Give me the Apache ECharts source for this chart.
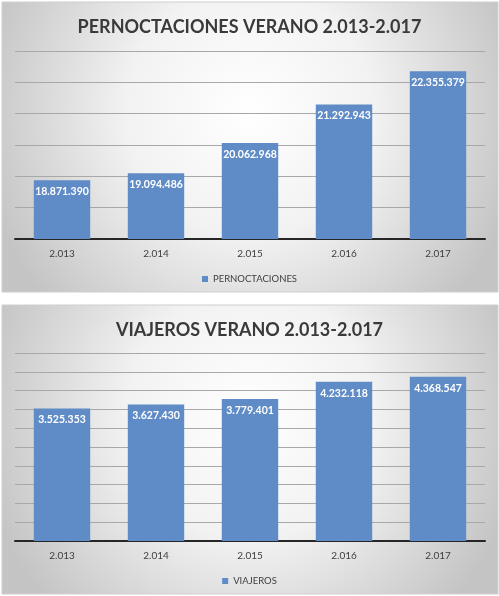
<!DOCTYPE html>
<html>
<head>
<meta charset="utf-8">
<script src="https://cdn.jsdelivr.net/npm/echarts@6/dist/echarts.min.js"></script>
<style>
html,body{margin:0;padding:0;background:#fff;}
#c{width:499px;height:596px;}
</style>
</head>
<body>
<div id="c"></div>
<script>
const categories = ['2.013', '2.014', '2.015', '2.016', '2.017'];
const pernoctaciones = [18871390, 19094486, 20062968, 21292943, 22355379];
const viajeros = [3525353, 3627430, 3779401, 4232118, 4368547];
const titleTop = 'PERNOCTACIONES VERANO 2.013-2.017';
const titleBottom = 'VIAJEROS VERANO 2.013-2.017';
const nameTop = 'PERNOCTACIONES';
const nameBottom = 'VIAJEROS';

const fmt = v => String(v).replace(/\B(?=(\d{3})+(?!\d))/g, '.');
const FONT = 'Lato';
const barColor = '#5f8bc6';

function panelGradient() {
  return new echarts.graphic.RadialGradient(0.5, 0.38, 0.95, [
    {offset: 0, color: '#ffffff'},
    {offset: 0.45, color: '#f2f2f2'},
    {offset: 1, color: '#c4c4c4'}
  ]);
}

const chart = echarts.init(document.getElementById('c'), null, {renderer: 'canvas'});

function xAxisCfg(gi) {
  return {
    type: 'category', gridIndex: gi, data: categories,
    axisLine: {lineStyle: {color: '#262626', width: 2}},
    axisTick: {show: false},
    axisLabel: {color: '#404040', fontSize: 10, fontFamily: FONT, margin: 10}
  };
}
function yAxisCfg(gi, min, max, interval) {
  return {
    type: 'value', gridIndex: gi, min: min, max: max, interval: interval,
    axisLabel: {show: false}, axisLine: {show: false}, axisTick: {show: false},
    splitLine: {lineStyle: {color: '#a8a8a8', width: 1}}
  };
}
function barSeries(name, gi, data) {
  return {
    type: 'bar', name: name, xAxisIndex: gi, yAxisIndex: gi, data: data,
    barCategoryGap: '40%',
    itemStyle: {color: barColor},
    label: {
      show: true, position: 'insideTop', distance: 6,
      color: '#ffffff', fontWeight: 'bold', fontSize: 10.5, fontFamily: FONT,
      formatter: p => fmt(p.value)
    }
  };
}

chart.setOption({
  animation: false,
  graphic: [
    {type: 'rect', z: -10, shape: {x: 2, y: 2, width: 496, height: 290},
     style: {fill: panelGradient(), stroke: '#cfcfcf', lineWidth: 1}},
    {type: 'rect', z: -10, shape: {x: 2, y: 305, width: 496, height: 289},
     style: {fill: panelGradient(), stroke: '#cfcfcf', lineWidth: 1}}
  ],
  title: [
    {text: titleTop, left: 'center', top: 13,
     textStyle: {fontFamily: FONT, fontWeight: 'bold', fontSize: 18, color: '#3a3a3a'}},
    {text: titleBottom, left: 'center', top: 316,
     textStyle: {fontFamily: FONT, fontWeight: 'bold', fontSize: 18, color: '#3a3a3a'}}
  ],
  legend: [
    {data: [nameTop], top: 269, left: 'center', icon: 'rect', itemWidth: 6, itemHeight: 6, itemGap: 4,
     textStyle: {color: '#404040', fontSize: 9.5, fontFamily: FONT}},
    {data: [nameBottom], top: 571, left: 'center', icon: 'rect', itemWidth: 6, itemHeight: 6, itemGap: 4,
     textStyle: {color: '#404040', fontSize: 9.5, fontFamily: FONT}}
  ],
  grid: [
    {left: 15, right: 14, top: 51, height: 188},
    {left: 15, right: 14, top: 353, height: 188}
  ],
  xAxis: [xAxisCfg(0), xAxisCfg(1)],
  yAxis: [yAxisCfg(0, 17000000, 23000000, 1000000), yAxisCfg(1, 0, 5000000, 500000)],
  series: [barSeries(nameTop, 0, pernoctaciones), barSeries(nameBottom, 1, viajeros)]
});
</script>
</body>
</html>
